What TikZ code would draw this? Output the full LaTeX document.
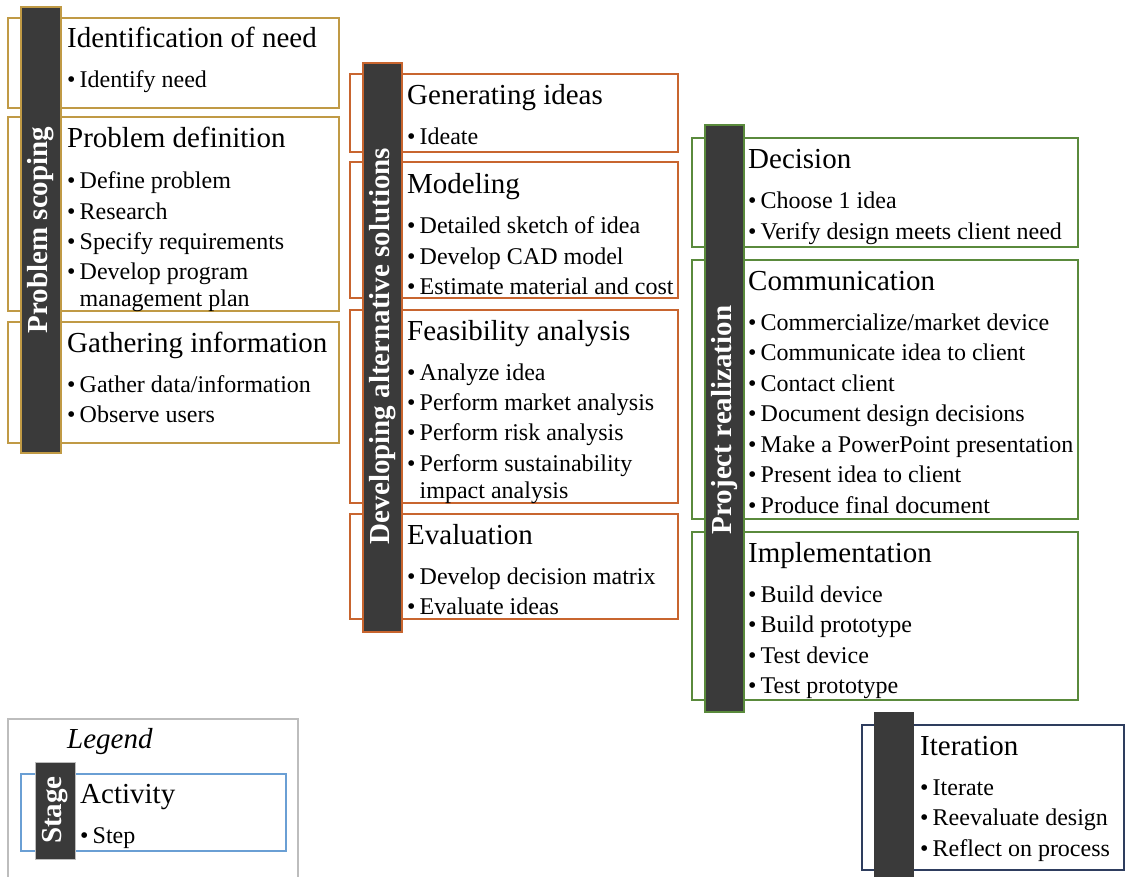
\documentclass[tikz,border=0pt]{standalone}
\usepackage{fontspec}
\setmainfont{Liberation Serif}
\definecolor{barfill}{HTML}{3A3A3A}
\definecolor{goldline}{HTML}{C09A45}
\definecolor{orangeline}{HTML}{C8652F}
\definecolor{greenline}{HTML}{5A8A3C}
\definecolor{navyline}{HTML}{2E3D5E}
\definecolor{blueline}{HTML}{6A9FD4}
\definecolor{greyline}{HTML}{BDBDBD}
\newcommand{\bul}{\makebox[12.5pt][l]{\textbullet}}
\newcommand{\cont}{\hspace*{12.5pt}}
\tikzset{
  actbox/.style={draw=#1, line width=2pt, fill=white},
  stagebar/.style={draw=#1, line width=2pt, fill=barfill},
  headtxt/.style={anchor=base west, inner sep=0pt, font=\fontsize{29}{34}\selectfont},
  steptxt/.style={anchor=base west, inner sep=0pt, font=\fontsize{24}{29}\selectfont},
  stagetxt/.style={rotate=90, text=white, inner sep=0pt, font=\bfseries\fontsize{29}{34}\selectfont},
}
\begin{document}
\begin{tikzpicture}[x=1pt, y=-1pt]
\useasboundingbox (0,0) rectangle (1126,877);
\clip (0,0) rectangle (1126,877);

% ---------- Stage 1: Problem scoping ----------
\draw[actbox=goldline] (8,18) rectangle (339,108);
\draw[actbox=goldline] (8,117) rectangle (339,311);
\draw[actbox=goldline] (8,322) rectangle (339,443);
\draw[stagebar=goldline] (21,7) rectangle (61,453);
\node[stagetxt] (ps) at (41,230) {Problem scoping};

\node[headtxt] (idn) at (67,48) {Identification of need};
\node[steptxt] (idn-1) at (67,88) {\bul Identify need};

\node[headtxt] (pd) at (67,148) {Problem definition};
\foreach \t [count=\i from 0] in {Define problem, Research, Specify requirements, Develop program}
  \node[steptxt] (pd-\i) at (67,{189+30.3*\i}) {\bul\t};
\node[steptxt] (pd-c) at (67,306) {\cont management plan};

\node[headtxt] (gi) at (67,352) {Gathering information};
\foreach \t [count=\i from 0] in {Gather data/information, Observe users}
  \node[steptxt] (gi-\i) at (67,{392+30.3*\i}) {\bul\t};

% ---------- Stage 2: Developing alternative solutions ----------
\draw[actbox=orangeline] (350,74) rectangle (678,152);
\draw[actbox=orangeline] (350,162) rectangle (678,298);
\draw[actbox=orangeline] (350,310) rectangle (678,503);
\draw[actbox=orangeline] (350,514) rectangle (678,619);
\draw[stagebar=orangeline] (363,63) rectangle (402,632);
\node[stagetxt] (das) at (382.5,346) {Developing alternative solutions};

\node[headtxt] (gen) at (407,105) {Generating ideas};
\node[steptxt] (gen-1) at (407,145) {\bul Ideate};

\node[headtxt] (mod) at (407,194) {Modeling};
\foreach \t [count=\i from 0] in {Detailed sketch of idea, Develop CAD model, Estimate material and cost}
  \node[steptxt] (mod-\i) at (407,{234+30.4*\i}) {\bul\t};

\node[headtxt] (fea) at (407,340) {Feasibility analysis};
\foreach \t [count=\i from 0] in {Analyze idea, Perform market analysis, Perform risk analysis, Perform sustainability}
  \node[steptxt] (fea-\i) at (407,{380+30.4*\i}) {\bul\t};
\node[steptxt] (fea-c) at (407,498) {\cont impact analysis};

\node[headtxt] (eva) at (407,544) {Evaluation};
\foreach \t [count=\i from 0] in {Develop decision matrix, Evaluate ideas}
  \node[steptxt] (eva-\i) at (407,{584+30.4*\i}) {\bul\t};

% ---------- Stage 3: Project realization ----------
\draw[actbox=greenline] (692,138) rectangle (1078,247);
\draw[actbox=greenline] (692,260) rectangle (1078,519);
\draw[actbox=greenline] (692,532) rectangle (1078,700);
\draw[stagebar=greenline] (705,125) rectangle (744,712);
\node[stagetxt] (pr) at (724.5,420) {Project realization};

\node[headtxt] (dec) at (748,169) {Decision};
\foreach \t [count=\i from 0] in {Choose 1 idea, Verify design meets client need}
  \node[steptxt] (dec-\i) at (748,{209+30.5*\i}) {\bul\t};

\node[headtxt] (com) at (748,290) {Communication};
\foreach \t [count=\i from 0] in {Commercialize/market device, Communicate idea to client, Contact client, Document design decisions, Make a PowerPoint presentation, Present idea to client, Produce final document}
  \node[steptxt] (com-\i) at (748,{330+30.5*\i}) {\bul\t};

\node[headtxt] (imp) at (748,562) {Implementation};
\foreach \t [count=\i from 0] in {Build device, Build prototype, Test device, Test prototype}
  \node[steptxt] (imp-\i) at (748,{602+30.5*\i}) {\bul\t};

% ---------- Iteration ----------
\draw[actbox=navyline] (862,725) rectangle (1124,870);
\draw[stagebar=barfill] (875,713) rectangle (913,880);
\node[headtxt] (ite) at (920,755) {Iteration};
\foreach \t [count=\i from 0] in {Iterate, Reevaluate design, Reflect on process}
  \node[steptxt] (ite-\i) at (920,{795+30.5*\i}) {\bul\t};

% ---------- Legend ----------
\draw[line width=2pt, draw=greyline, fill=white] (8,719) rectangle (298,890);
\node[headtxt, font=\itshape\fontsize{29}{34}\selectfont] (leg) at (67,748) {Legend};
\draw[actbox=blueline] (21,774) rectangle (286,851);
\draw[draw=greyline, line width=0.8pt, fill=barfill] (35,762) rectangle (75,859);
\node[stagetxt] (leg-stage) at (55,810) {Stage};
\node[headtxt] (leg-act) at (80,803) {Activity};
\node[steptxt] (leg-step) at (80,843) {\bul Step};
\end{tikzpicture}
\end{document}
